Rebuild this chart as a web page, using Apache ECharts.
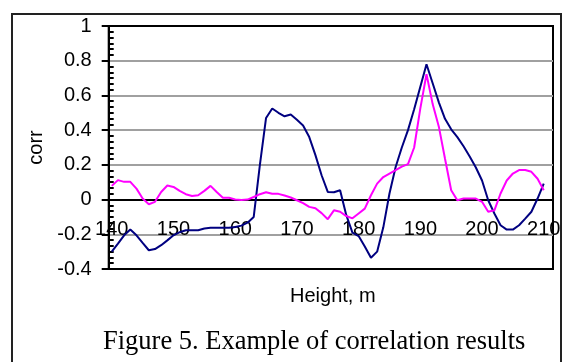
<!DOCTYPE html>
<html>
<head>
<meta charset="utf-8">
<script src="https://cdn.jsdelivr.net/npm/echarts@6/dist/echarts.min.js"></script>
<style>
  html, body { margin: 0; padding: 0; background: #fff; }
  #chart { width: 565px; height: 362px; }
</style>
</head>
<body>
<div id="chart"></div>
<script>
// heights (m), one category per metre; the last one is empty
const heights = [
  '140', '141', '142', '143', '144', '145', '146', '147', '148', '149',
  '150', '151', '152', '153', '154', '155', '156', '157', '158', '159',
  '160', '161', '162', '163', '164', '165', '166', '167', '168', '169',
  '170', '171', '172', '173', '174', '175', '176', '177', '178', '179',
  '180', '181', '182', '183', '184', '185', '186', '187', '188', '189',
  '190', '191', '192', '193', '194', '195', '196', '197', '198', '199',
  '200', '201', '202', '203', '204', '205', '206', '207', '208', '209',
  '210', '211'
];

const corrBlue = [
  -0.30, -0.254, -0.206, -0.173, -0.206, -0.25, -0.292, -0.285, -0.263, -0.235,
  -0.206, -0.188, -0.177, -0.177, -0.177, -0.167, -0.163, -0.163, -0.163, -0.163,
  -0.158, -0.15, -0.133, -0.10, 0.20, 0.47, 0.525, 0.50, 0.48, 0.49,
  0.46, 0.427, 0.36, 0.256, 0.14, 0.044, 0.042, 0.054, -0.09, -0.19,
  -0.21, -0.27, -0.335, -0.30, -0.16, 0.035, 0.188, 0.30, 0.40, 0.52,
  0.65, 0.78, 0.67, 0.56, 0.465, 0.405, 0.36, 0.307, 0.248, 0.185,
  0.11, -0.004, -0.08, -0.148, -0.173, -0.173, -0.148, -0.11, -0.07, 0.006,
  0.092
];

const corrPink = [
  0.079, 0.112, 0.102, 0.102, 0.063, 0.006, -0.027, -0.013, 0.044, 0.081,
  0.073, 0.05, 0.031, 0.021, 0.025, 0.05, 0.079, 0.044, 0.01, 0.01,
  0.0, -0.002, 0.0, 0.015, 0.031, 0.042, 0.033, 0.033, 0.023, 0.012,
  -0.004, -0.02, -0.042, -0.05, -0.078, -0.113, -0.062, -0.07, -0.095, -0.108,
  -0.08, -0.052, 0.025, 0.092, 0.13, 0.15, 0.17, 0.19, 0.204, 0.30,
  0.525, 0.723, 0.55, 0.42, 0.235, 0.054, -0.004, 0.006, 0.006, 0.006,
  -0.013, -0.07, -0.062, 0.035, 0.11, 0.15, 0.17, 0.17, 0.16, 0.12,
  0.054
];

const yMin = -0.4;
const yMax = 1;
const yStep = 0.2;

const gridTop = 26;
const gridBottom = 93;
const gridHeight = 362 - gridTop - gridBottom;
// the category axis crosses at corr = 0
const zeroOffset = -gridHeight * (0 - yMin) / (yMax - yMin);

const chart = echarts.init(document.getElementById('chart'));

const axisFont = { fontFamily: 'Liberation Sans', fontSize: 20, color: '#000' };

chart.setOption({
  animation: false,
  title: {
    text: 'Figure 5. Example of correlation results',
    left: 103,
    top: 329,
    padding: 0,
    textStyle: {
      fontFamily: 'Liberation Serif',
      fontSize: 26.5,
      fontWeight: 'normal',
      color: '#000'
    }
  },
  graphic: [
    {
      type: 'rect',
      shape: { x: 12, y: 14, width: 549, height: 400 },
      style: { fill: 'none', stroke: '#222', lineWidth: 2 },
      silent: true
    },
    {
      type: 'text',
      left: 290,
      top: 286,
      style: { text: 'Height, m', font: '20px "Liberation Sans"', fill: '#000' },
      silent: true
    }
  ],
  grid: {
    left: 108.7,
    right: 12,
    top: gridTop,
    bottom: gridBottom,
    outerBoundsMode: 'none',
    show: true,
    borderColor: '#000',
    borderWidth: 2,
    backgroundColor: 'transparent'
  },
  xAxis: [
    {
      type: 'category',
      data: heights,
      boundaryGap: true,
      position: 'bottom',
      offset: zeroOffset,
      axisLine: { onZero: false, lineStyle: { color: '#000', width: 2 } },
      axisTick: { interval: 9, length: 6, lineStyle: { color: '#000', width: 2 } },
      axisLabel: Object.assign({ interval: 9, margin: 20 }, axisFont),
      splitLine: { show: false }
    },
    {
      // minor ticks every 5 m, pointing inside
      type: 'category',
      data: heights,
      boundaryGap: true,
      position: 'bottom',
      offset: zeroOffset,
      axisLine: { show: false, onZero: false },
      axisTick: {
        inside: true,
        length: 5,
        interval: (i) => i % 10 === 5,
        lineStyle: { color: '#000', width: 2 }
      },
      axisLabel: { show: false },
      splitLine: { show: false }
    }
  ],
  yAxis: {
    type: 'value',
    min: yMin,
    max: yMax,
    interval: yStep,
    name: 'corr',
    nameLocation: 'middle',
    nameRotate: 90,
    nameGap: 62,
    nameTextStyle: axisFont,
    axisLine: { show: true, lineStyle: { color: '#000', width: 2 } },
    axisTick: { show: true, length: 7, lineStyle: { color: '#000', width: 2 } },
    minorTick: { show: true, splitNumber: 6, length: -5, lineStyle: { color: '#000', width: 2 } },
    axisLabel: Object.assign({
      margin: 17,
      formatter: (v) => String(Math.round(v * 10) / 10)
    }, axisFont),
    splitLine: {
      show: true,
      showMinLine: false,
      showMaxLine: false,
      lineStyle: { color: '#a0a0a0', width: 2 }
    }
  },
  series: [
    {
      type: 'line',
      data: corrBlue,
      xAxisIndex: 0,
      showSymbol: false,
      lineStyle: { color: '#000080', width: 2 },
      itemStyle: { color: '#000080' }
    },
    {
      type: 'line',
      data: corrPink,
      xAxisIndex: 0,
      showSymbol: false,
      lineStyle: { color: '#ff00ff', width: 2 },
      itemStyle: { color: '#ff00ff' }
    }
  ]
});
</script>
</body>
</html>
